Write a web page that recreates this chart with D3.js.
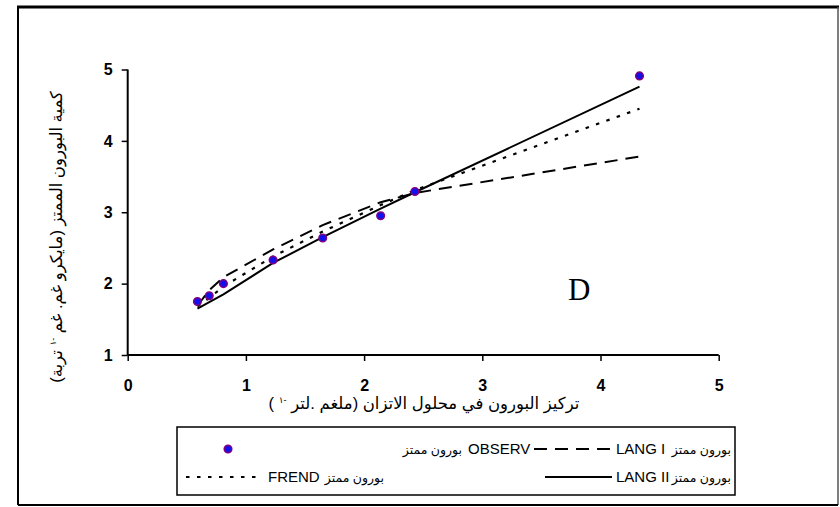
<!DOCTYPE html>
<html lang="ar">
<head>
<meta charset="UTF-8">
<title>Boron adsorption D</title>
<style>
  body { margin:0; background:#fff; }
  svg { display:block; font-family: Arial, "Liberation Sans", "DejaVu Sans", sans-serif; }
</style>
</head>
<body>
<svg width="840" height="507"></svg>
<script src="https://cdnjs.cloudflare.com/ajax/libs/d3/7.8.5/d3.min.js"></script>
<script>
// equilibrium boron concentration (x) and adsorbed boron (y)
const obsX  = [0.59, 0.69, 0.81, 1.23, 1.65, 2.14, 2.43, 4.33]
const obsY  = [1.75, 1.83, 2.00, 2.33, 2.64, 2.95, 3.29, 4.91]
const langI  = [1.69, 1.91, 2.09, 2.48, 2.82, 3.14, 3.27, 3.78]
const langII = [1.65, 1.74, 1.85, 2.29, 2.65, 3.05, 3.28, 4.76]
const frend  = [1.68, 1.80, 1.96, 2.38, 2.73, 3.10, 3.31, 4.45]
const xTicks = [0, 1, 2, 3, 4, 5]
const yTicks = [1, 2, 3, 4, 5]

const svg = d3.select('svg')

// outer frame
svg.append('line').attr('x1', 17).attr('y1', 7).attr('x2', 839).attr('y2', 7)
  .attr('stroke', '#000').attr('stroke-width', 3)
svg.append('line').attr('x1', 18).attr('y1', 6).attr('x2', 18).attr('y2', 505)
  .attr('stroke', '#000').attr('stroke-width', 2)
svg.append('line').attr('x1', 838).attr('y1', 7).attr('x2', 838).attr('y2', 505)
  .attr('stroke', '#555').attr('stroke-width', 1.5)
svg.append('line').attr('x1', 18).attr('y1', 505).attr('x2', 838).attr('y2', 505)
  .attr('stroke', '#000').attr('stroke-width', 2)

const x = d3.scaleLinear().domain([0, 5]).range([127.7, 718.7])
const y = d3.scaleLinear().domain([1, 5]).range([355, 69.5])

// axes
const gx = svg.append('g').attr('transform', 'translate(0,355)')
  .call(d3.axisBottom(x).tickValues(xTicks).tickSize(6).tickPadding(19).tickFormat(d3.format('d')))
const gy = svg.append('g').attr('transform', 'translate(127.7,0)')
  .call(d3.axisLeft(y).tickValues(yTicks).tickSize(6).tickPadding(9).tickFormat(d3.format('d')))
svg.selectAll('.domain').attr('stroke', '#000').attr('stroke-width', 2)
gx.select('.domain').attr('d', 'M' + x(0) + ',0H' + x(5))
gy.select('.domain').attr('d', 'M0,' + y(5) + 'V' + y(1))
svg.selectAll('.tick line').attr('stroke', '#000').attr('stroke-width', 1.5)
svg.selectAll('.tick text').attr('fill', '#000')
  .style('font-size', '16px').style('font-weight', 'bold')
  .style('font-family', 'Arial, "Liberation Sans", sans-serif')

// series
const idx = d3.range(obsX.length)
const line = vals => d3.line().x(i => x(obsX[i])).y(i => y(vals[i]))(idx)

svg.append('path').attr('d', line(langI)).attr('fill', 'none')
  .attr('stroke', '#000').attr('stroke-width', 2).attr('stroke-dasharray', '13,8')
svg.append('path').attr('d', line(frend)).attr('fill', 'none')
  .attr('stroke', '#000').attr('stroke-width', 2.2).attr('stroke-dasharray', '3.5,7.5')
svg.append('path').attr('d', line(langII)).attr('fill', 'none')
  .attr('stroke', '#000').attr('stroke-width', 2)

svg.selectAll('.obs').data(idx).join('circle').attr('class', 'obs')
  .attr('cx', i => x(obsX[i])).attr('cy', i => y(obsY[i])).attr('r', 3.8)
  .attr('fill', '#1010ee').attr('stroke', '#800080').attr('stroke-width', 1.5)

svg.append('text').attr('x', 568).attr('y', 300).text('D')
  .style('font-family', '"Liberation Serif", "Times New Roman", serif').style('font-size', '31px')

// axis titles
const xt = svg.append('text').attr('x', 424).attr('y', 409).attr('text-anchor', 'middle')
  .attr('direction', 'rtl').style('font-size', '16.5px')
xt.append('tspan').text('تركيز البورون في محلول الاتزان (ملغم .لتر ')
xt.append('tspan').attr('dy', -6).style('font-size', '9px').text('-١')
xt.append('tspan').attr('dy', 6).text(' )')

const yt = svg.append('text').attr('transform', 'translate(62,237) rotate(-90)')
  .attr('text-anchor', 'middle').attr('direction', 'rtl').style('font-size', '16.5px')
yt.append('tspan').text('كمية البورون الممتز (مايكرو غم. غم ')
yt.append('tspan').attr('dy', -6).style('font-size', '9px').text('-١')
yt.append('tspan').attr('dy', 6).text(' تربة)')

// legend
svg.append('rect').attr('x', 177).attr('y', 427).attr('width', 558).attr('height', 68)
  .attr('fill', '#fff').attr('stroke', '#000').attr('stroke-width', 1.5)
const r1 = 449, r2 = 477
const lt = (xx, yy, s, anchor, fs) => svg.append('text').attr('x', xx).attr('y', yy + 5)
  .attr('text-anchor', anchor || 'start').style('font-size', (fs || 15) + 'px').text(s)

svg.append('circle').attr('cx', 228).attr('cy', r1).attr('r', 3.8)
  .attr('fill', '#1010ee').attr('stroke', '#800080').attr('stroke-width', 1.5)
lt(462, r1, 'بورون ممتز', 'end', 12.5)
lt(468, r1, 'OBSERV')
svg.append('line').attr('x1', 534).attr('x2', 612).attr('y1', r1).attr('y2', r1)
  .attr('stroke', '#000').attr('stroke-width', 2).attr('stroke-dasharray', '13,8')
lt(616, r1, 'LANG I')
lt(731, r1, 'بورون ممتز', 'end', 12.5)

svg.append('line').attr('x1', 186).attr('x2', 262).attr('y1', r2).attr('y2', r2)
  .attr('stroke', '#000').attr('stroke-width', 2.2).attr('stroke-dasharray', '3.5,7.5')
lt(268, r2, 'FREND')
lt(384, r2, 'بورون ممتز', 'end', 12.5)
svg.append('line').attr('x1', 545).attr('x2', 612).attr('y1', r2).attr('y2', r2)
  .attr('stroke', '#000').attr('stroke-width', 2)
lt(616, r2, 'LANG II')
lt(731, r2, 'بورون ممتز', 'end', 12.5)
</script>
</body>
</html>
